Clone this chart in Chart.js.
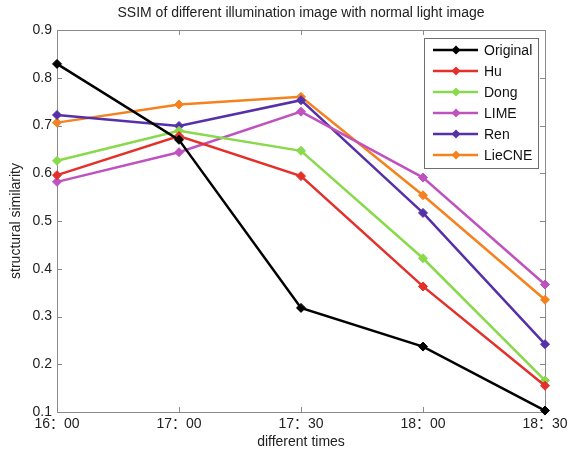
<!DOCTYPE html>
<html>
<head>
<meta charset="utf-8">
<title>SSIM</title>
<script src="https://cdn.jsdelivr.net/npm/chart.js@4/dist/chart.umd.min.js"></script>
<style>
body { margin:0; background:#fff; }
#box { width:568px; height:452px; position:relative; }
</style>
</head>
<body>
<div id="box"><canvas id="ssimChart"></canvas></div>
<script>
var times = ['16：00', '17：00', '17：30', '18：00', '18：30'];
var yTicks = [0.1, 0.2, 0.3, 0.4, 0.5, 0.6, 0.7, 0.8, 0.9];

var original = [0.829, 0.670, 0.318, 0.237, 0.103];
var hu       = [0.596, 0.678, 0.594, 0.363, 0.155];
var dong     = [0.626, 0.689, 0.647, 0.422, 0.166];
var lime     = [0.582, 0.644, 0.729, 0.591, 0.367];
var ren      = [0.722, 0.699, 0.753, 0.517, 0.242];
var liecne   = [0.706, 0.744, 0.760, 0.554, 0.335];

var FONT = "'Liberation Sans', Arial, 'Noto Sans CJK SC', sans-serif";
var AXIS_COLOR = '#8a8a8a';

function series(label, color, data) {
	return {
		label : label,
		data : data,
		borderColor : color,
		backgroundColor : color,
		borderWidth : 2.5,
		pointStyle : 'rectRot',
		pointRadius : 4.5,
		pointBorderWidth : 1,
		pointBackgroundColor : color,
		pointBorderColor : color,
		tension : 0,
		clip : false
	};
}

// matlab style box with inward ticks
var boxPlugin = {
	id : 'matlabBox',
	beforeDatasetsDraw : function(chart) {
		var ctx = chart.ctx, a = chart.chartArea;
		var xs = chart.scales.x, ys = chart.scales.y;
		var tl = 5;
		ctx.save();
		ctx.strokeStyle = AXIS_COLOR;
		ctx.lineWidth = 1;
		ctx.strokeRect(a.left + 0.5, a.top + 0.5, a.right - a.left, a.bottom - a.top);
		ctx.beginPath();
		for (var i = 0; i < xs.ticks.length; i++) {
			var px = Math.round(xs.getPixelForTick(i)) + 0.5;
			ctx.moveTo(px, a.bottom);
			ctx.lineTo(px, a.bottom - tl);
			ctx.moveTo(px, a.top);
			ctx.lineTo(px, a.top + tl);
		}
		for (var j = 0; j < ys.ticks.length; j++) {
			var py = Math.round(ys.getPixelForValue(ys.ticks[j].value)) + 0.5;
			ctx.moveTo(a.left, py);
			ctx.lineTo(a.left + tl, py);
			ctx.moveTo(a.right, py);
			ctx.lineTo(a.right - tl, py);
		}
		ctx.stroke();
		ctx.restore();
	}
};

// legend inside the axes, top right
var legendPlugin = {
	id : 'boxLegend',
	afterDraw : function(chart) {
		var ctx = chart.ctx, a = chart.chartArea;
		var sets = chart.data.datasets;
		var w = 114, rowH = 21;
		var h = sets.length * rowH + 4;
		var left = a.right - 7 - w, top = a.top + 8;
		ctx.save();
		ctx.fillStyle = '#fff';
		ctx.fillRect(left, top, w, h);
		ctx.strokeStyle = '#6e6e6e';
		ctx.lineWidth = 1;
		ctx.strokeRect(left + 0.5, top + 0.5, w, h);
		ctx.font = '14px ' + FONT;
		ctx.textBaseline = 'middle';
		for (var i = 0; i < sets.length; i++) {
			var y = top + 12 + i * rowH;
			ctx.strokeStyle = sets[i].borderColor;
			ctx.fillStyle = sets[i].borderColor;
			ctx.lineWidth = 2.5;
			ctx.beginPath();
			ctx.moveTo(left + 9, y);
			ctx.lineTo(left + 54, y);
			ctx.stroke();
			var mx = left + 32, r = 4.5;
			ctx.beginPath();
			ctx.moveTo(mx, y - r);
			ctx.lineTo(mx + r, y);
			ctx.lineTo(mx, y + r);
			ctx.lineTo(mx - r, y);
			ctx.closePath();
			ctx.fill();
			ctx.fillStyle = '#111';
			ctx.fillText(sets[i].label, left + 60, y + 1);
		}
		ctx.restore();
	}
};

var lineChart = new Chart(document.getElementById('ssimChart').getContext('2d'), {
	type : 'line',
	data : {
		labels : times,
		datasets : [
			series('Original', '#000000', original),
			series('Hu', '#e3302a', hu),
			series('Dong', '#88d94c', dong),
			series('LIME', '#c052bf', lime),
			series('Ren', '#5630a8', ren),
			series('LieCNE', '#f5821f', liecne)
		]
	},
	options : {
		responsive : true,
		maintainAspectRatio : false,
		animation : false,
		layout : { padding : { left : 0, right : 23, top : 0, bottom : 0 } },
		plugins : {
			legend : { display : false },
			tooltip : { enabled : false },
			title : {
				display : true,
				fullSize : false,
				text : 'SSIM of different illumination image with normal light image',
				color : '#222',
				font : { family : FONT, size : 14, weight : 'normal', lineHeight : 1.2 },
				padding : { top : 4.6, bottom : 8.6 }
			}
		},
		scales : {
			x : {
				type : 'category',
				offset : false,
				grid : { display : false, drawTicks : false },
				border : { display : false },
				ticks : {
					color : '#222',
					padding : 4,
					maxRotation : 0,
					autoSkip : false,
					font : { family : FONT, size : 14 }
				},
				title : {
					display : true,
					text : 'different times',
					color : '#222',
					font : { family : FONT, size : 14, lineHeight : 1.2 },
					padding : { top : 0, bottom : 1.6 }
				},
				afterFit : function(scale) {
					scale.height = 40;
					scale.paddingLeft = 0;
					scale.paddingRight = 0;
				}
			},
			y : {
				min : 0.1,
				max : 0.9,
				grid : { display : false, drawTicks : false },
				border : { display : false },
				afterBuildTicks : function(scale) {
					scale.ticks = yTicks.map(function(v) { return { value : v }; });
				},
				ticks : {
					color : '#222',
					padding : 5,
					font : { family : FONT, size : 14 },
					callback : function(v) { return Number(v).toFixed(1); }
				},
				title : {
					display : true,
					text : 'structural similarity',
					color : '#222',
					font : { family : FONT, size : 14, lineHeight : 1.2 },
					padding : { top : 7.6, bottom : 0 }
				},
				afterFit : function(scale) {
					scale.width = 57;
					scale.paddingTop = 0;
					scale.paddingBottom = 0;
				}
			}
		}
	},
	plugins : [boxPlugin, legendPlugin]
});
</script>
</body>
</html>
